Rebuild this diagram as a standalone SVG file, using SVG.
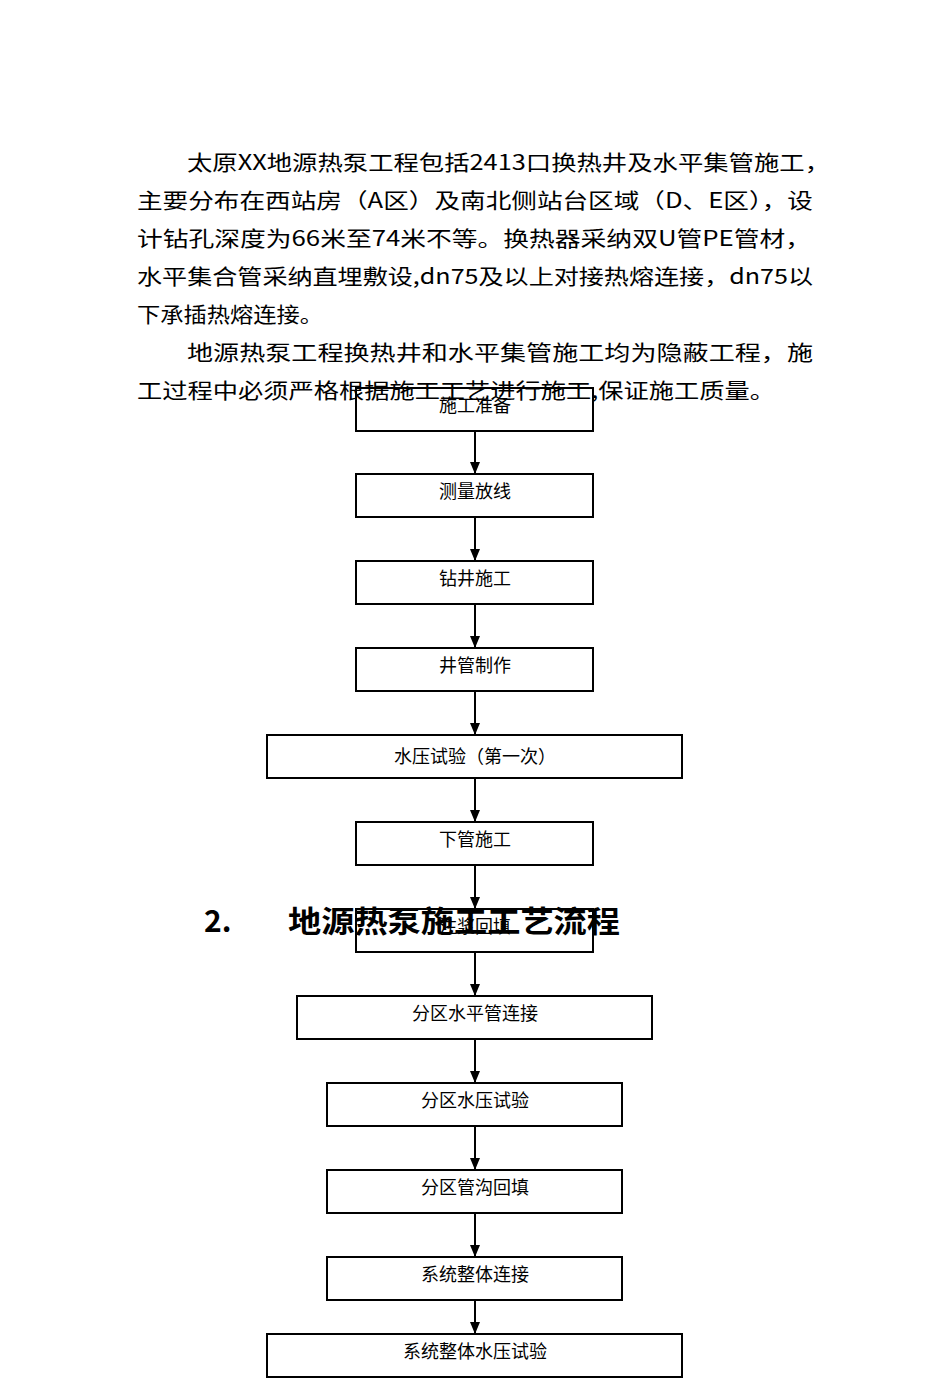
<svg xmlns="http://www.w3.org/2000/svg" width="950" height="1378" viewBox="0 0 950 1378">
<defs>
<marker id="ah" markerWidth="12" markerHeight="10" refX="12" refY="5" orient="auto" markerUnits="userSpaceOnUse"><path d="M0,0 L12,5 L0,10 Z" fill="#000"/></marker>
<style>
.p{font-family:"Noto Sans CJK SC","Liberation Serif",serif;font-size:21px;fill:#000}
.b{fill:#fff;stroke:#000;stroke-width:2}
.t{font-family:"Noto Sans CJK SC",sans-serif;font-size:18px;fill:#000;text-anchor:middle}
.c{stroke:#000;stroke-width:2;fill:none;marker-end:url(#ah)}
.h{font-family:"Noto Sans CJK SC",sans-serif;font-size:30px;font-weight:bold;fill:#000}
</style>
</defs>
<rect width="950" height="1378" fill="#fff"/>
<g id="para">
<text class="p" x="187" y="170" textLength="643" lengthAdjust="spacingAndGlyphs">太原XX地源热泵工程包括2413口换热井及水平集管施工，</text>
<text class="p" x="137" y="208" textLength="676" lengthAdjust="spacingAndGlyphs">主要分布在西站房（A区）及南北侧站台区域（D、E区），设</text>
<text class="p" x="137" y="246" textLength="674" lengthAdjust="spacingAndGlyphs">计钻孔深度为66米至74米不等。换热器采纳双U管PE管材，</text>
<text class="p" x="137" y="284" textLength="676" lengthAdjust="spacingAndGlyphs">水平集合管采纳直埋敷设,dn75及以上对接热熔连接，dn75以</text>
<text class="p" x="137" y="322" textLength="186" lengthAdjust="spacingAndGlyphs">下承插热熔连接。</text>
<text class="p" x="187" y="360" textLength="626" lengthAdjust="spacingAndGlyphs">地源热泵工程换热井和水平集管施工均为隐蔽工程，施</text>
<text class="p" x="137" y="398" textLength="638" lengthAdjust="spacingAndGlyphs">工过程中必须严格根据施工工艺进行施工,保证施工质量。</text>
</g>
<g id="connectors">
<line class="c" x1="475" y1="431" x2="475" y2="474"/>
<line class="c" x1="475" y1="517" x2="475" y2="561"/>
<line class="c" x1="475" y1="604" x2="475" y2="648"/>
<line class="c" x1="475" y1="691" x2="475" y2="735"/>
<line class="c" x1="475" y1="778" x2="475" y2="822"/>
<line class="c" x1="475" y1="865" x2="475" y2="909"/>
<line class="c" x1="475" y1="952" x2="475" y2="996"/>
<line class="c" x1="475" y1="1039" x2="475" y2="1083"/>
<line class="c" x1="475" y1="1126" x2="475" y2="1170"/>
<line class="c" x1="475" y1="1213" x2="475" y2="1257"/>
<line class="c" x1="475" y1="1300" x2="475" y2="1334"/>
</g>
<g id="n1"><rect class="b" x="356" y="388" width="237" height="43" fill-opacity="0"/><text class="t" x="475" y="412">施工准备</text></g>
<g id="n2"><rect class="b" x="356" y="474" width="237" height="43"/><text class="t" x="475" y="498">测量放线</text></g>
<g id="n3"><rect class="b" x="356" y="561" width="237" height="43"/><text class="t" x="475" y="585">钻井施工</text></g>
<g id="n4"><rect class="b" x="356" y="648" width="237" height="43"/><text class="t" x="475" y="672">井管制作</text></g>
<g id="n5"><rect class="b" x="267" y="735" width="415" height="43"/><text class="t" x="475" y="763">水压试验（第一次）</text></g>
<g id="n6"><rect class="b" x="356" y="822" width="237" height="43"/><text class="t" x="475" y="846">下管施工</text></g>
<g id="n7"><rect class="b" x="356" y="909" width="237" height="43"/><text class="t" x="475" y="933">注浆回填</text></g>
<g id="n8"><rect class="b" x="297" y="996" width="355" height="43"/><text class="t" x="475" y="1020">分区水平管连接</text></g>
<g id="n9"><rect class="b" x="327" y="1083" width="295" height="43"/><text class="t" x="475" y="1107">分区水压试验</text></g>
<g id="n10"><rect class="b" x="327" y="1170" width="295" height="43"/><text class="t" x="475" y="1194">分区管沟回填</text></g>
<g id="n11"><rect class="b" x="327" y="1257" width="295" height="43"/><text class="t" x="475" y="1281">系统整体连接</text></g>
<g id="n12"><rect class="b" x="267" y="1334" width="415" height="43"/><text class="t" x="475" y="1358">系统整体水压试验</text></g>
<g id="title">
<text class="h" x="204" y="932">2.</text>
<text class="h" x="288" y="932" textLength="332" lengthAdjust="spacingAndGlyphs">地源热泵施工工艺流程</text>
</g>
</svg>
